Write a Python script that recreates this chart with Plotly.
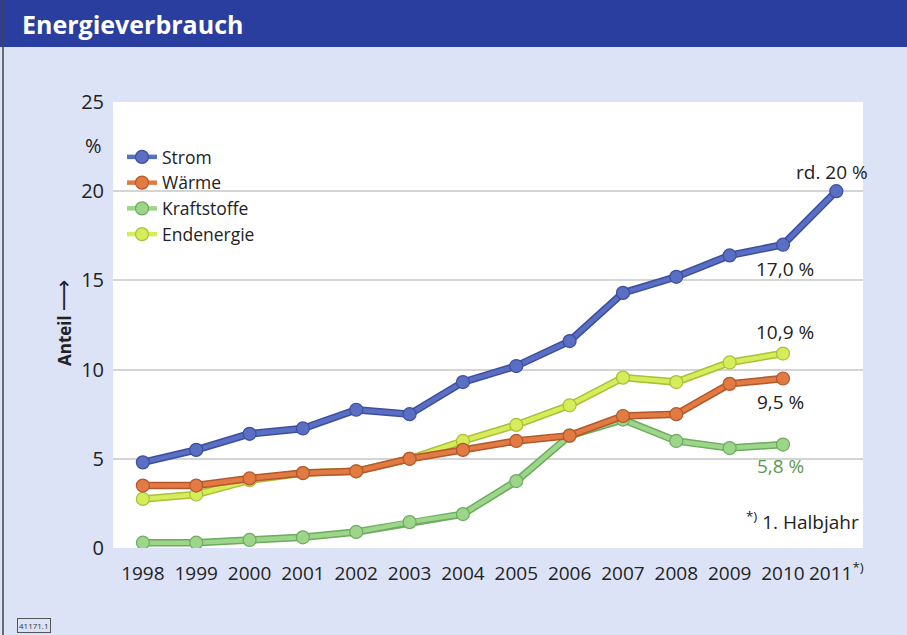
import plotly.graph_objects as go

years = [1998, 1999, 2000, 2001, 2002, 2003, 2004, 2005, 2006, 2007, 2008, 2009, 2010, 2011]
tick_labels = ["1998", "1999", "2000", "2001", "2002", "2003", "2004", "2005", "2006",
               "2007", "2008", "2009", "2010", "2011<sup>*)</sup>"]

strom = [4.8, 5.5, 6.4, 6.7, 7.75, 7.5, 9.3, 10.2, 11.6, 14.3, 15.2, 16.4, 17.0, 20.0]
waerme = [3.5, 3.5, 3.9, 4.2, 4.3, 5.0, 5.5, 6.0, 6.3, 7.4, 7.5, 9.2, 9.5]
kraftstoffe = [0.3, 0.3, 0.45, 0.6, 0.9, 1.45, 1.9, 3.75, 6.3, 7.2, 6.0, 5.6, 5.8]
endenergie = [2.75, 3.0, 3.8, 4.2, 4.3, 5.0, 6.0, 6.9, 8.0, 9.55, 9.3, 10.4, 10.9]

series = [
    # name, values, fill color, edge color, legend rank
    ("Endenergie", endenergie, "#d6ec5a", "#a9c03a", 4),
    ("Kraftstoffe", kraftstoffe, "#9dd68a", "#6dab5e", 3),
    ("Wärme", waerme, "#e27a44", "#b3582a", 2),
    ("Strom", strom, "#5a6fc4", "#3c4f9e", 1),
]

BG = "#dce3f6"
FONT = "Open Sans, DejaVu Sans, sans-serif"

fig = go.Figure()
for name, vals, col, edge, rank in series:
    xs = years[:len(vals)]
    fig.add_trace(go.Scatter(
        x=xs, y=vals, mode="lines", showlegend=False, hoverinfo="skip",
        line=dict(color=edge, width=7.5),
    ))
    fig.add_trace(go.Scatter(
        x=xs, y=vals, mode="lines+markers", name=name, legendrank=rank,
        line=dict(color=col, width=4.5),
        marker=dict(size=13, color=col, line=dict(color=edge, width=1.2)),
    ))


def px(x):
    return (x - 113) / 750


def py(y):
    return (548 - y) / 446


def label(text, x, y, xa="center", ya="middle", size=19, color="#222222", **kw):
    return dict(text=text, xref="paper", yref="paper", x=px(x), y=py(y),
                xanchor=xa, yanchor=ya, showarrow=False,
                font=dict(size=size, color=color, family=FONT), **kw)


fig.update_layout(
    width=907, height=635,
    margin=dict(l=113, r=44, t=102, b=87),
    paper_bgcolor=BG, plot_bgcolor="white",
    font=dict(family=FONT, color="#222222", size=19),
    showlegend=True,
    legend=dict(x=0.012, y=py(139), xanchor="left", yanchor="top",
                bgcolor="rgba(0,0,0,0)", font=dict(size=17.5, color="#222222"),
                itemwidth=30, tracegroupgap=0),
    xaxis=dict(range=[1997.44, 2011.5], tickvals=years, ticktext=tick_labels,
               showgrid=False, zeroline=False, showline=False, ticks="",
               tickangle=0, tickfont=dict(size=19), ticklabelstandoff=12),
    yaxis=dict(range=[0, 25], tickvals=[0, 5, 10, 15, 20, 25],
               showgrid=True, gridcolor="#d4d4d4", gridwidth=1.5,
               zeroline=False, showline=False, ticks="",
               tickfont=dict(size=20), ticklabelstandoff=8),
    shapes=[
        dict(type="rect", xref="paper", yref="paper", x0=-0.2, x1=1.1,
             y0=py(47), y1=py(-10),
             fillcolor="#2a3e9f", line=dict(width=0), layer="above"),
        dict(type="line", xref="paper", yref="paper",
             x0=px(3), x1=px(3), y0=py(700), y1=py(-10),
             line=dict(color="#444444", width=1.5)),
    ],
    annotations=[
        label("<b>Energieverbrauch</b>", 20, 24, xa="left", size=25, color="white"),
        label("%", 104, 146, xa="right", size=20),
        dict(text="<b>Anteil</b> <span style='font-size:22px'>\u27f6</span>",
             xref="paper", yref="paper", x=px(62),
             y=py(322), textangle=-90, xanchor="center", yanchor="middle",
             showarrow=False, font=dict(size=17, color="#222222", family=FONT)),
        label("rd. 20 %", 832, 172),
        label("17,0 %", 785, 269),
        label("10,9 %", 785, 332),
        label("9,5 %", 780, 402),
        label("5,8 %", 780, 466, color="#5c9a4e"),
        label("<sup>*)</sup> 1. Halbjahr", 861, 521, xa="right"),
        label("41171.1", 17, 625, xa="left", size=8, color="#333333",
              bordercolor="#555555", borderwidth=1, borderpad=1),
    ],
)

fig.write_html("out.html", config={"displayModeBar": False},
               post_script="document.body.style.margin='0';document.body.style.overflow='hidden';")
